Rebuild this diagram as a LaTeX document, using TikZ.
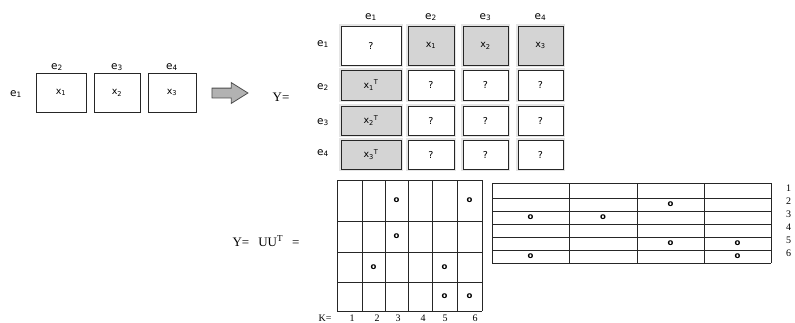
\documentclass[tikz,border=0pt]{standalone}
\usepackage{fontspec}
\setmainfont{Liberation Serif}
\newfontfamily\vfont{DejaVu Sans}
\usetikzlibrary{shapes.arrows,positioning}
\tikzset{
  inbox/.style = {rectangle, draw=black!85, fill=white, line width=1pt, inner sep=0pt,
                  font=\vfont\fontsize{9.5}{10}\selectfont},
  cell/.style  = {inbox, preaction={draw=black!10, line width=4pt}},
  cellg/.style = {cell, fill=black!17},
  lbl/.style   = {inner sep=0pt, font=\vfont\fontsize{10.5}{11}\selectfont},
  dot/.style   = {inner sep=0pt, font=\vfont\bfseries\fontsize{8.5}{9}\selectfont},
  eq/.style    = {inner sep=0pt, font=\fontsize{13}{14}\selectfont},
  num/.style   = {inner sep=0pt, font=\fontsize{10}{11}\selectfont},
  gridln/.style= {black!85, line width=1pt},
  bigarr/.style= {single arrow, draw=black!70, fill=black!30, line width=0.8pt,
                  minimum height=36pt, minimum width=0pt, inner xsep=0pt, inner ysep=4.5pt,
                  single arrow head extend=5.5pt, single arrow tip angle=64},
}

\begin{document}
\begin{tikzpicture}[x=1pt,y=-1pt]
  \useasboundingbox (0,0) rectangle (795,322);
  % input row
  \node[inbox, minimum width=50pt, minimum height=39pt] (x1) at (61,92.5) {x\textsubscript{1}};
  \node[inbox, minimum width=46pt, minimum height=39pt] (x2) at (117,92.5) {x\textsubscript{2}};
  \node[inbox, minimum width=48pt, minimum height=39pt] (x3) at (172,92.5) {x\textsubscript{3}};
  \node[lbl] (ia) at (16,94) {e\textsubscript{1}};
  \node[lbl] (ib) at (57,67) {e\textsubscript{2}};
  \node[lbl] (ic) at (117,67) {e\textsubscript{3}};
  \node[lbl] (id) at (172,67) {e\textsubscript{4}};
  \node[bigarr] (go) at (226,93) {};
  \node[eq] (ylhs) at (281,97) {Y=};
  % block matrix Y
  \node[cell, minimum width=60pt, minimum height=39pt] (m11) at (371,45.5) {?};
  \node[cellg, minimum width=46pt, minimum height=39pt] (m12) at (431,45.5) {x\textsubscript{1}};
  \node[cellg, minimum width=45pt, minimum height=39pt] (m13) at (485.5,45.5) {x\textsubscript{2}};
  \node[cellg, minimum width=45pt, minimum height=39pt] (m14) at (540.5,45.5) {x\textsubscript{3}};
  \foreach \r/\y/\h in {2/85/30, 3/120.5/29, 4/154.5/29} {
    \pgfmathtruncatemacro{\k}{\r-1}
    \node[cellg, minimum width=60pt, minimum height=\h pt] (m\r1) at (371,\y) {x\textsubscript{\k}\textsuperscript{T}};
    \node[cell, minimum width=46pt, minimum height=\h pt] (m\r2) at (431,\y) {?};
    \node[cell, minimum width=45pt, minimum height=\h pt] (m\r3) at (485.5,\y) {?};
    \node[cell, minimum width=45pt, minimum height=\h pt] (m\r4) at (540.5,\y) {?};
  }
  \foreach \i/\x in {1/371, 2/431, 3/485.5, 4/540.5}
    \node[lbl] (ct\i) at (\x,17) {e\textsubscript{\i}};
  \foreach \i/\y in {1/44, 2/87, 3/122, 4/153}
    \node[lbl] (rl\i) at (323,\y) {e\textsubscript{\i}};
  % factor U
  \node[eq] (yfac) at (266,241) {Y=\hspace{9pt}UU\textsuperscript{T}\hspace{9pt}=};
  \foreach \x in {337,362,385,408,432,457,482}
    \draw[gridln] (\x,180) -- (\x,311);
  \foreach \y in {180,221,252,282,311}
    \draw[gridln] (337,\y) -- (482,\y);
  \foreach \n/\x/\y in {a/396.5/200, b/469.5/200, c/396.5/236.5, d/373.5/267,
                        e/444.5/267, f/444.5/296.5, g/469.5/296.5}
    \node[dot] (u\n) at (\x,\y) {o};
  \node[num] (kk) at (325,318) {K=};
  \foreach \i/\x in {1/352, 2/377, 3/398, 4/423, 5/445, 6/475}
    \node[num] (k\i) at (\x,318) {\i};
  % factor U transposed
  \foreach \x in {492,569,637,704,771}
    \draw[gridln] (\x,183) -- (\x,263);
  \foreach \y in {183,198,211,224,237,250,263}
    \draw[gridln] (492,\y) -- (771,\y);
  \foreach \n/\x/\y in {a/670.5/204.5, b/530.5/217.5, c/603/217.5, d/670.5/243.5,
                        e/737.5/243.5, f/530.5/256.5, g/737.5/256.5}
    \node[dot] (t\n) at (\x,\y) {o};
  \foreach \i/\y in {1/188, 2/201, 3/214, 4/227, 5/240, 6/253}
    \node[num, anchor=west] (r\i) at (786,\y) {\i};
\end{tikzpicture}
\end{document}
